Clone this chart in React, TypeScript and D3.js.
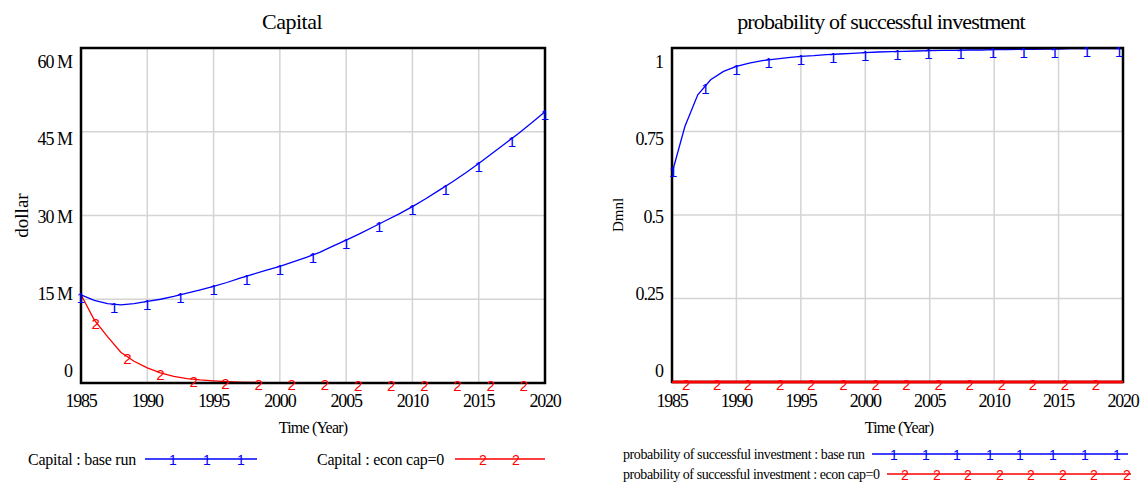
import React from "react";
import * as d3 from "d3";

// annual samples 1985..2020
const years = d3.range(1985, 2021);

const capitalBaseRun = [
  15.8, 14.8, 14.2, 14.0, 14.2, 14.6, 15.0, 15.5, 16.1, 16.7,
  17.3, 18.0, 18.8, 19.5, 20.2, 20.9, 21.7, 22.5, 23.4, 24.5,
  25.6, 26.7, 27.9, 29.1, 30.3, 31.6, 33.0, 34.5, 36.0, 37.6,
  39.3, 41.1, 42.9, 44.7, 46.6, 48.6,
].map((v) => v * 1e6);

const capitalEconCap0 = [
  15.8, 11.3, 8.3, 5.5, 3.9, 2.7, 1.8, 1.2, 0.8, 0.55,
  0.38, 0.25, 0.15, 0.1, 0.07, 0.05, 0.03, 0.02, 0.01, 0.01,
  0, 0, 0, 0, 0, 0, 0, 0, 0, 0,
  0, 0, 0, 0, 0, 0,
].map((v) => v * 1e6);

const probBaseRun = [
  0.625, 0.765, 0.86, 0.905, 0.93, 0.945, 0.955, 0.962, 0.967, 0.971,
  0.975, 0.977, 0.98, 0.982, 0.984, 0.986, 0.988, 0.989, 0.99, 0.991,
  0.992, 0.993, 0.993, 0.994, 0.994, 0.995, 0.995, 0.996, 0.996, 0.997,
  0.997, 0.998, 0.998, 0.998, 0.998, 0.998,
];

const probEconCap0 = [
  0, 0, 0, 0, 0, 0, 0, 0, 0, 0,
  0, 0, 0, 0, 0, 0, 0, 0, 0, 0,
  0, 0, 0, 0, 0, 0, 0, 0, 0, 0,
  0, 0, 0, 0, 0, 0,
];

// where the "1"/"2" run markers sit along each curve (years)
const capBaseMarks = [1985, 1987.5, 1990, 1992.5, 1995, 1997.5, 2000, 2002.5, 2005, 2007.5, 2010, 2012.5, 2015, 2017.5, 2020];
const capEconMarks = [1986.1, 1988.5, 1991, 1993.5, 1995.9, 1998.4, 2000.9, 2003.4, 2005.9, 2008.4, 2010.9, 2013.4, 2015.9, 2018.4];
const probBaseMarks = [1985.1, 1987.6, 1990, 1992.5, 1995, 1997.5, 2000, 2002.5, 2004.9, 2007.4, 2009.9, 2012.3, 2014.7, 2017.2, 2019.7];
const probEconMarks = [1986.1, 1988.5, 1990.9, 1993.4, 1995.8, 1998.3, 2000.8, 2003.2, 2005.7, 2008.1, 2010.6, 2013, 2015.5, 2017.9];

const xTicks = [1985, 1990, 1995, 2000, 2005, 2010, 2015, 2020];
const capTicks = [0, 15e6, 30e6, 45e6, 60e6];
const capTickLabels = ["0", "15 M", "30 M", "45 M", "60 M"];
const probTicks = [0, 0.25, 0.5, 0.75, 1];
const probTickLabels = ["0", "0.25", "0.5", "0.75", "1"];

const BLUE = "#0000ff";
const RED = "#ff0000";
const GRID = "#d4d4d4";
const SERIF = "Liberation Serif, serif";
const SANS = "Liberation Sans, sans-serif";

function valueAt(vals: number[], t: number) {
  const i = Math.max(0, Math.min(vals.length - 2, Math.floor(t - years[0])));
  const f = t - years[i];
  return vals[i] + (vals[i + 1] - vals[i]) * f;
}

type Series = { values: number[]; marks: number[]; color: string; label: string; width?: number };

function Panel({
  left, right, top, bottom, yMax, ticks, tickLabels, series, title, titleX, titleSpacing, yTitle, yTitleX, yTitleSize, axisTitleX,
}: {
  left: number; right: number; top: number; bottom: number; yMax: number;
  ticks: number[]; tickLabels: string[]; series: Series[];
  title: string; titleX: number; titleSpacing: number;
  yTitle: string; yTitleX: number; yTitleSize: number; axisTitleX: number;
}) {
  const x = d3.scaleLinear().domain([1985, 2020]).range([left, right]);
  const y = d3.scaleLinear().domain([0, yMax]).range([bottom, top]);
  // Vensim spreads the value labels a bit inside the frame
  const yLab = d3.scaleLinear().domain([0, yMax]).range([371, 62]);
  const line = d3.line<number>().x((_, i) => x(years[i])).y((d) => y(d));

  return (
    <g>
      <text x={titleX} y={29} textAnchor="middle" fontFamily={SERIF} fontSize={22}
        letterSpacing={titleSpacing}>{title}</text>

      {/* grid */}
      {xTicks.slice(1, -1).map((t) => (
        <line key={t} x1={x(t)} x2={x(t)} y1={top} y2={bottom} stroke={GRID} strokeWidth={1.5} />
      ))}
      {ticks.slice(1, -1).map((t) => (
        <line key={t} x1={left} x2={right} y1={y(t)} y2={y(t)} stroke={GRID} strokeWidth={1.5} />
      ))}

      {/* curves */}
      {series.map((s) => (
        <path key={s.label} d={line(s.values) || ""} fill="none" stroke={s.color} strokeWidth={s.width ?? 1.3} />
      ))}

      {/* frame */}
      <rect x={left} y={top} width={right - left} height={bottom - top} fill="none" stroke="#000" strokeWidth={2.5} />
      {series.filter((s) => s.width).map((s) => (
        <path key={s.label + "-top"} d={line(s.values) || ""} fill="none" stroke={s.color} strokeWidth={s.width} />
      ))}

      {/* run markers */}
      {series.map((s, si) =>
        s.marks.map((t) => (
          <text key={s.label + t} x={x(t)} y={y(valueAt(s.values, t)) + (si === 0 ? 3 : 2)}
            textAnchor="middle" dominantBaseline="central" fontFamily={SANS} fontSize={15} fill={s.color}>
            {si + 1}
          </text>
        ))
      )}

      {/* x tick labels */}
      {xTicks.map((t) => (
        <text key={t} x={x(t)} y={407} textAnchor="middle" fontFamily={SERIF} fontSize={18} letterSpacing={-1.2}>{t}</text>
      ))}
      <text x={axisTitleX} y={433} textAnchor="middle" fontFamily={SERIF} fontSize={16} letterSpacing={-0.8}>Time (Year)</text>

      {/* y tick labels */}
      {ticks.map((t, i) => (
        <text key={t} x={left - 9} y={yLab(t)} textAnchor="end" dominantBaseline="central"
          fontFamily={SERIF} fontSize={18} letterSpacing={-1}>{tickLabels[i]}</text>
      ))}
      <text transform={`translate(${yTitleX},${(top + bottom) / 2}) rotate(-90)`} textAnchor="middle"
        dominantBaseline="central" fontFamily={SERIF} fontSize={yTitleSize}>{yTitle}</text>
    </g>
  );
}

function LegendItem({ x, y, spacing, label, color, x1, x2, marks, n, fontSize }: {
  x: number; y: number; spacing: number; label: string; color: string; x1: number; x2: number; marks: number[]; n: number; fontSize: number;
}) {
  return (
    <g>
      <text x={x} y={y} dominantBaseline="central" fontFamily={SERIF} fontSize={fontSize}
        letterSpacing={spacing}>{label}</text>
      <line x1={x1} x2={x2} y1={y} y2={y} stroke={color} strokeWidth={1.3} />
      {marks.map((m) => (
        <text key={m} x={m} y={y + 1} textAnchor="middle" dominantBaseline="central" fontFamily={SANS} fontSize={14} fill={color}>{n}</text>
      ))}
    </g>
  );
}

export default function App() {
  return (
    <svg width={1143} height={482} style={{ position: "absolute", left: 0, top: 0, background: "#fff" }}>
      <rect width={1143} height={482} fill="#fff" />
      <Panel
        left={81} right={545} top={48} bottom={383} yMax={60e6}
        ticks={capTicks} tickLabels={capTickLabels}
        series={[
          { values: capitalBaseRun, marks: capBaseMarks, color: BLUE, label: "Capital : base run" },
          { values: capitalEconCap0, marks: capEconMarks, color: RED, label: "Capital : econ cap=0" },
        ]}
        title="Capital" titleX={292} titleSpacing={-0.5}
        yTitle="dollar" yTitleX={21} yTitleSize={19} axisTitleX={313}
      />
      <Panel
        left={672} right={1123} top={48} bottom={382} yMax={1}
        ticks={probTicks} tickLabels={probTickLabels}
        series={[
          { values: probBaseRun, marks: probBaseMarks, color: BLUE, label: "prob base" },
          { values: probEconCap0, marks: probEconMarks, color: RED, label: "prob econ", width: 2.5 },
        ]}
        title="probability of successful investment" titleX={881} titleSpacing={-0.85}
        yTitle="Dmnl" yTitleX={618} yTitleSize={15} axisTitleX={899}
      />

      <LegendItem x={28} y={459} spacing={-0.25} label="Capital : base run" color={BLUE}
        x1={145} x2={257} marks={[173, 207, 241]} n={1} fontSize={16} />
      <LegendItem x={317} y={459} spacing={-0.25} label="Capital : econ cap=0" color={RED}
        x1={455} x2={545} marks={[483, 516]} n={2} fontSize={16} />

      <LegendItem x={623} y={454} spacing={-0.4} label="probability of successful investment : base run" color={BLUE}
        x1={872} x2={1128} marks={[894, 926, 957, 990, 1020, 1053, 1085, 1117]} n={1} fontSize={14} />
      <LegendItem x={623} y={474} spacing={-0.43} label="probability of successful investment : econ cap=0" color={RED}
        x1={887} x2={1131} marks={[905, 937, 968, 1000, 1031, 1063, 1094, 1127]} n={2} fontSize={14} />
    </svg>
  );
}
